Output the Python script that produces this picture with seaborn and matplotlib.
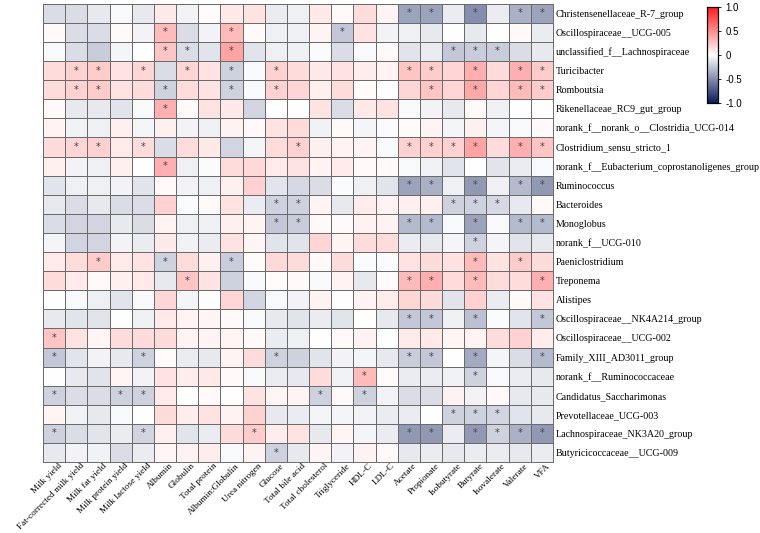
import numpy as np
import pandas as pd
import seaborn as sns
from matplotlib import pyplot as plt
from matplotlib.colors import LinearSegmentedColormap
from matplotlib.transforms import ScaledTranslation

traits = ["Milk yield", "Fat-corrected milk yield", "Milk fat yield", "Milk protein yield",
          "Milk lactose yield", "Albumin", "Globulin", "Total protein", "Albumin:Globulin",
          "Urea nitrogen", "Glucose", "Total bile acid", "Total cholesterol", "Triglyceride",
          "HDL-C", "LDL-C", "Acetate", "Propionate", "Isobutyrate", "Butyrate",
          "Isovalerate", "Valerate", "VFA"]

genera = ["Christensenellaceae_R-7_group", "Oscillospiraceae__UCG-005",
          "unclassified_f__Lachnospiraceae", "Turicibacter", "Romboutsia",
          "Rikenellaceae_RC9_gut_group", "norank_f__norank_o__Clostridia_UCG-014",
          "Clostridium_sensu_stricto_1", "norank_f__Eubacterium_coprostanoligenes_group",
          "Ruminococcus", "Bacteroides", "Monoglobus", "norank_f__UCG-010",
          "Paeniclostridium", "Treponema", "Alistipes", "Oscillospiraceae__NK4A214_group",
          "Oscillospiraceae__UCG-002", "Family_XIII_AD3011_group",
          "norank_f__Ruminococcaceae", "Candidatus_Saccharimonas",
          "Prevotellaceae_UCG-003", "Lachnospiraceae_NK3A20_group",
          "Butyricicoccaceae__UCG-009"]

corr = [
    [-0.15, -0.15, -0.10, -0.03, -0.10, 0.10, -0.05, 0.02, 0.10, 0.12, -0.08, -0.07, 0.10, 0.03, 0.15, 0.05, -0.40, -0.40, -0.08, -0.50, -0.08, -0.35, -0.40],
    [0.03, -0.15, -0.15, 0.03, -0.05, 0.30, -0.15, -0.05, 0.30, 0.03, -0.07, -0.07, 0.05, -0.25, 0.12, -0.05, -0.07, -0.10, 0.00, -0.10, 0.00, 0.03, -0.08],
    [-0.03, -0.15, -0.22, -0.04, 0.00, 0.25, -0.15, -0.12, 0.40, -0.12, -0.07, -0.07, -0.02, -0.15, -0.03, 0.03, -0.12, -0.08, -0.25, -0.22, -0.22, -0.15, -0.10],
    [0.15, 0.20, 0.22, 0.12, 0.18, -0.15, 0.18, 0.12, -0.20, -0.03, 0.20, 0.15, 0.10, 0.12, 0.08, 0.05, 0.25, 0.22, 0.18, 0.35, 0.15, 0.35, 0.22],
    [0.15, 0.20, 0.22, 0.12, 0.15, -0.20, 0.15, 0.12, -0.20, -0.03, 0.20, 0.18, 0.07, 0.15, 0.02, 0.00, 0.18, 0.25, 0.18, 0.38, 0.18, 0.30, 0.22],
    [0.03, -0.10, -0.10, -0.12, -0.03, 0.35, 0.03, 0.12, 0.10, -0.18, 0.00, 0.00, 0.12, -0.15, 0.10, 0.12, -0.03, -0.05, -0.10, 0.03, -0.07, 0.00, 0.00],
    [0.05, -0.06, -0.07, 0.07, -0.04, 0.07, -0.05, -0.07, 0.06, 0.03, 0.12, 0.15, -0.06, 0.03, -0.04, -0.02, 0.02, 0.05, -0.04, 0.07, -0.04, -0.03, 0.03],
    [0.15, 0.18, 0.20, 0.10, 0.15, -0.15, 0.15, 0.10, -0.18, -0.04, 0.15, 0.20, 0.07, 0.05, 0.05, -0.03, 0.20, 0.20, 0.20, 0.40, 0.15, 0.35, 0.25],
    [0.07, -0.05, -0.07, 0.07, 0.00, 0.35, -0.07, -0.02, 0.15, 0.17, 0.10, 0.12, 0.05, 0.10, 0.03, 0.03, -0.03, -0.06, -0.12, 0.00, -0.12, -0.08, -0.03],
    [-0.12, -0.07, -0.07, -0.05, -0.12, 0.03, -0.05, -0.07, 0.07, 0.20, -0.12, -0.17, -0.15, -0.02, -0.07, -0.12, -0.40, -0.35, -0.07, -0.45, -0.07, -0.30, -0.45],
    [-0.10, -0.15, -0.10, -0.15, -0.15, 0.20, -0.02, 0.03, 0.12, -0.08, -0.20, -0.20, 0.04, -0.10, 0.08, 0.05, 0.07, 0.07, -0.20, -0.20, -0.17, -0.10, 0.03],
    [-0.15, -0.18, -0.18, -0.10, -0.15, 0.05, -0.07, -0.07, 0.07, 0.05, -0.25, -0.22, 0.03, 0.03, 0.06, 0.06, -0.30, -0.30, -0.03, -0.40, -0.03, -0.30, -0.30],
    [-0.04, -0.18, -0.18, -0.05, -0.08, 0.10, -0.06, -0.08, 0.12, 0.04, -0.12, -0.12, 0.18, 0.04, 0.15, 0.15, -0.08, -0.10, -0.04, -0.20, -0.04, -0.12, -0.10],
    [0.10, 0.15, 0.22, 0.10, 0.12, -0.20, 0.15, 0.07, -0.22, 0.02, 0.17, 0.15, 0.03, 0.15, -0.02, -0.02, 0.12, 0.15, 0.12, 0.30, 0.12, 0.22, 0.15],
    [0.15, 0.10, 0.03, 0.07, 0.10, -0.10, 0.25, 0.12, -0.20, -0.03, 0.02, 0.03, -0.03, 0.05, -0.10, 0.02, 0.30, 0.35, 0.15, 0.30, 0.15, 0.15, 0.35],
    [0.00, -0.03, -0.07, -0.12, -0.03, 0.18, -0.04, 0.00, 0.18, -0.18, -0.03, -0.05, 0.05, 0.00, 0.05, 0.08, 0.18, 0.15, -0.12, 0.20, -0.08, 0.03, 0.12],
    [-0.10, -0.12, -0.12, 0.00, -0.07, 0.10, 0.05, 0.04, 0.03, -0.03, -0.10, -0.12, -0.08, -0.12, 0.00, -0.10, -0.25, -0.25, -0.07, -0.28, -0.02, -0.12, -0.25],
    [0.25, 0.12, 0.04, 0.15, 0.15, 0.15, 0.05, 0.05, 0.04, 0.03, -0.08, -0.07, 0.00, 0.03, 0.06, 0.00, 0.10, 0.10, 0.04, 0.05, 0.15, 0.20, 0.08],
    [-0.25, -0.12, -0.05, -0.10, -0.20, 0.02, -0.08, -0.10, 0.05, 0.15, -0.20, -0.20, -0.12, -0.05, -0.04, -0.10, -0.22, -0.25, 0.00, -0.38, -0.04, -0.15, -0.30],
    [0.00, -0.10, -0.12, 0.04, -0.05, 0.12, 0.08, 0.10, 0.03, -0.03, -0.08, -0.10, 0.15, -0.06, 0.30, 0.02, -0.08, -0.08, -0.06, -0.20, -0.03, -0.08, -0.10],
    [-0.20, -0.15, -0.15, -0.20, -0.20, 0.10, 0.00, 0.03, 0.00, 0.12, 0.04, 0.05, -0.20, 0.03, -0.20, -0.05, -0.15, -0.15, 0.06, -0.05, 0.03, -0.10, -0.10],
    [0.04, -0.06, -0.10, -0.03, 0.00, 0.15, 0.08, 0.12, 0.06, 0.20, -0.10, -0.08, -0.04, -0.04, -0.05, -0.08, -0.08, 0.00, -0.20, -0.20, -0.18, -0.12, -0.10],
    [-0.20, -0.15, -0.12, -0.08, -0.18, 0.07, -0.12, -0.08, 0.15, 0.22, 0.08, 0.12, -0.10, 0.04, -0.04, -0.08, -0.45, -0.45, -0.08, -0.45, -0.20, -0.35, -0.45],
    [-0.10, -0.05, -0.06, -0.15, -0.08, 0.04, 0.06, 0.08, -0.03, 0.06, -0.20, -0.10, 0.04, -0.05, 0.06, 0.03, -0.10, -0.08, -0.10, -0.08, -0.08, -0.10, -0.08],
]

# columns marked with * in each row
signif = [
    [16, 17, 19, 21, 22],
    [5, 8, 13],
    [5, 6, 8, 18, 19, 20],
    [1, 2, 4, 6, 8, 10, 16, 17, 19, 21, 22],
    [1, 2, 5, 8, 10, 17, 19, 21, 22],
    [5],
    [],
    [1, 2, 4, 11, 16, 17, 18, 19, 21, 22],
    [5],
    [16, 17, 19, 21, 22],
    [10, 11, 18, 19, 20],
    [10, 11, 16, 17, 19, 21, 22],
    [19],
    [2, 5, 8, 19, 21],
    [6, 16, 17, 19, 22],
    [],
    [16, 17, 19, 22],
    [0],
    [0, 4, 10, 16, 17, 19, 22],
    [14, 19],
    [0, 3, 4, 12, 14],
    [18, 19, 20],
    [0, 4, 9, 16, 17, 19, 20, 21, 22],
    [10],
]

df = pd.DataFrame(corr, index=genera, columns=traits)
stars = np.full(df.shape, "", dtype=object)
for i, cols in enumerate(signif):
    for j in cols:
        stars[i, j] = "*"

cmap = LinearSegmentedColormap.from_list("navy_red", ["#0b1d5c", "#ffffff", "#ff1a1a"])

fig = plt.figure(figsize=(7.6, 5.33), dpi=100)
ax = fig.add_axes([0.0566, 0.133, 0.671, 0.860])
cax = fig.add_axes([0.930, 0.807, 0.0145, 0.180])

sns.heatmap(df, ax=ax, cbar_ax=cax, cmap=cmap, vmin=-1, vmax=1,
            linewidths=0.7, linecolor="#6b6b6b",
            annot=stars, fmt="", annot_kws={"color": "#444444", "fontsize": 7, "va": "center"})

ax.yaxis.tick_right()
ax.tick_params(length=0, pad=2)
ax.set_yticklabels(genera, rotation=0, fontsize=7.2, family="Liberation Serif")
ax.set_xticklabels(traits, rotation=45, ha="right", rotation_mode="anchor",
                   fontsize=6.7, family="Liberation Serif")
shift = ScaledTranslation(0.04, 0.03, fig.dpi_scale_trans)
for lab in ax.get_xticklabels():
    lab.set_transform(lab.get_transform() + shift)
ax.set_xlabel("")
ax.set_ylabel("")
for s in ax.spines.values():
    s.set_visible(True)
    s.set_color("#6b6b6b")
    s.set_linewidth(0.7)

cax.set_yticks([-1, -0.5, 0, 0.5, 1])
cax.set_yticklabels(["-1.0", "-0.5", "0", "0.5", "1.0"], fontsize=7, family="Liberation Sans")
cax.tick_params(length=2, width=0.6)
for s in cax.spines.values():
    s.set_visible(True)
    s.set_linewidth(0.8)

fig.savefig("out.png", dpi=100)
